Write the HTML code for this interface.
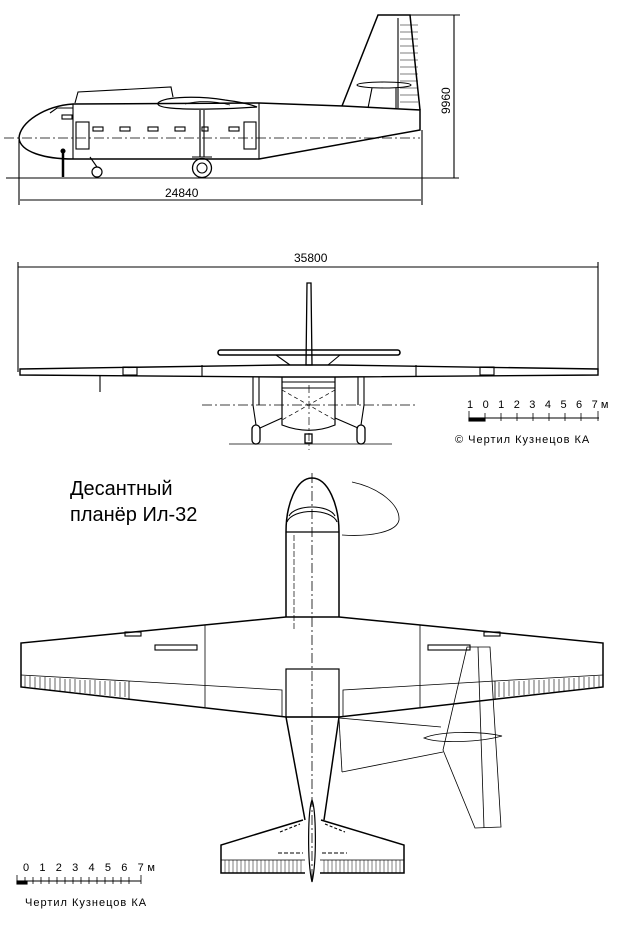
<!DOCTYPE html>
<html><head><meta charset="utf-8"><style>
html,body{margin:0;padding:0;background:#fff}
svg{display:block}
text{font-family:"Liberation Sans","DejaVu Sans",sans-serif;fill:#000}
</style></head><body>
<svg width="640" height="934" viewBox="0 0 640 934" xmlns="http://www.w3.org/2000/svg" fill="none" stroke="#000" stroke-width="1.1">
<!-- ===== SIDE VIEW ===== -->
<g>
<line x1="4" y1="138" x2="420" y2="138" stroke-dasharray="10,3,2,3" stroke-width="0.8"/>
<line x1="6" y1="178" x2="459" y2="178"/>
<path d="M73,104 C45,106 20,122 19,138 C20,152 45,159 73,159 L259,159 L420,130 L420,110 L343,106 L259,103 Z" stroke-width="1.5"/>
<line x1="73" y1="104" x2="73" y2="159"/>
<line x1="259" y1="103" x2="259" y2="159"/>
<path d="M50,113 L57,108 L73,108" />
<rect x="62" y="115" width="10" height="4"/>
<path d="M342,106 L378,15 L410,15 L420,110" stroke-width="1.5"/>
<line x1="398" y1="18" x2="398" y2="108"/>
<g stroke-width="0.6">
<line x1="400" y1="25" x2="418" y2="25"/><line x1="400" y1="32" x2="418" y2="32"/><line x1="400" y1="39" x2="418" y2="39"/><line x1="400" y1="46" x2="418" y2="46"/><line x1="400" y1="53" x2="418" y2="53"/><line x1="400" y1="60" x2="418" y2="60"/><line x1="400" y1="67" x2="418" y2="67"/><line x1="400" y1="74" x2="418" y2="74"/><line x1="400" y1="81" x2="418" y2="81"/><line x1="400" y1="88" x2="418" y2="88"/><line x1="400" y1="95" x2="418" y2="95"/><line x1="400" y1="102" x2="418" y2="102"/>
</g>
<ellipse cx="384" cy="85" rx="27" ry="3"/>
<line x1="372" y1="88" x2="368" y2="108"/><line x1="396" y1="88" x2="396" y2="108"/>
<path d="M158,103 C165,96 200,96 225,100 C240,102 250,104 257,107 C230,109 190,110 170,108 C160,107 157,105 158,103 Z" stroke-width="1.2"/>
<path d="M185,104 C200,100 215,101 230,105" stroke-width="0.8"/>
<line x1="200" y1="110" x2="200" y2="157" stroke-width="1.2"/>
<line x1="204" y1="110" x2="204" y2="157"/>
<circle cx="202" cy="168" r="9.5" stroke-width="1.3"/><circle cx="202" cy="168" r="5"/>
<line x1="192" y1="157" x2="212" y2="157"/>
<circle cx="97" cy="172" r="5" stroke-width="1.2"/>
<line x1="90" y1="157" x2="97" y2="167"/>
<g>
<rect x="93" y="127" width="10" height="4"/><rect x="120" y="127" width="10" height="4"/><rect x="148" y="127" width="10" height="4"/><rect x="175" y="127" width="10" height="4"/><rect x="202" y="127" width="6" height="4"/><rect x="229" y="127" width="10" height="4"/>
<rect x="76" y="122" width="13" height="27"/><rect x="244" y="122" width="12" height="27"/>
</g>
<path d="M75,103 L78,92 L171,87 L173,97"/>
<circle cx="63" cy="151" r="2" fill="#000"/>
<line x1="63" y1="153" x2="63" y2="177" stroke-width="2.5"/>
<line x1="410" y1="15" x2="460" y2="15"/>
<line x1="454" y1="15" x2="454" y2="178"/>
<line x1="19" y1="140" x2="19" y2="205"/>
<line x1="422" y1="130" x2="422" y2="205"/>
<line x1="20" y1="200" x2="421" y2="200"/>
<text x="165" y="197" font-size="12" stroke="none">24840</text>
<text transform="translate(450,114) rotate(-90)" font-size="12" stroke="none">9960</text>
</g>

<!-- ===== FRONT VIEW ===== -->
<g>
<line x1="18" y1="262" x2="18" y2="372"/><line x1="598" y1="262" x2="598" y2="372"/>
<line x1="18" y1="267" x2="598" y2="267"/>
<text x="294" y="262" font-size="12" stroke="none">35800</text>
<path d="M20,369 L282,365 L335,365 L598,369 L598,375 L335,377 L282,377 L20,375 Z" stroke-width="1.4"/>
<line x1="202" y1="365" x2="202" y2="377"/><line x1="416" y1="365" x2="416" y2="377"/>
<rect x="123" y="367" width="14" height="8"/><rect x="480" y="367" width="14" height="8"/>
<line x1="100" y1="376" x2="100" y2="392"/>
<path d="M307,283 L311,283 L312,365 L306,365 Z" stroke-width="1.3"/>
<rect x="218" y="350" width="182" height="5" rx="2.5" stroke-width="1.6"/>
<line x1="276" y1="355" x2="290" y2="365"/><line x1="340" y1="355" x2="328" y2="365"/>
<path d="M282,377 L282,425 C300,432 318,432 335,425 L335,377" stroke-width="1.2"/>
<line x1="282" y1="382" x2="335" y2="382"/>
<line x1="282" y1="388" x2="335" y2="388"/>
<line x1="282" y1="390" x2="335" y2="420" stroke-dasharray="4,3" stroke-width="0.7"/>
<line x1="335" y1="390" x2="282" y2="420" stroke-dasharray="4,3" stroke-width="0.7"/>
<line x1="309" y1="385" x2="309" y2="450" stroke-dasharray="8,3,2,3" stroke-width="0.7"/>
<line x1="202" y1="405" x2="416" y2="405" stroke-dasharray="10,3,2,3" stroke-width="0.8"/>
<line x1="229" y1="444" x2="392" y2="444" stroke-width="0.8"/>
<path d="M253,377 L253,405 L256,425 M259,377 L259,405"/>
<path d="M364,377 L364,405 L361,425 M358,377 L358,405"/>
<path d="M260,428 L282,418 M358,428 L335,418"/>
<rect x="252" y="425" width="8" height="19" rx="4" stroke-width="1.3"/>
<rect x="357" y="425" width="8" height="19" rx="4" stroke-width="1.3"/>
<rect x="305" y="434" width="7" height="9" stroke-width="1.3"/>
<text x="467" y="408" font-size="11" stroke="none" letter-spacing="3.2">1 0 1 2 3 4 5 6 7м</text>
<line x1="469" y1="418" x2="599" y2="418"/>
<g stroke-width="0.8">
<line x1="469" y1="411" x2="469" y2="421"/><line x1="485" y1="413" x2="485" y2="421"/><line x1="501" y1="413" x2="501" y2="421"/><line x1="517" y1="413" x2="517" y2="421"/><line x1="533" y1="413" x2="533" y2="421"/><line x1="549" y1="413" x2="549" y2="421"/><line x1="565" y1="413" x2="565" y2="421"/><line x1="581" y1="413" x2="581" y2="421"/><line x1="598" y1="411" x2="598" y2="421"/>
</g>
<rect x="469" y="418" width="16" height="3" fill="#000"/>
<text x="455" y="443" font-size="11" stroke="none" letter-spacing="1">©  Чертил Кузнецов КА</text>
</g>

<!-- ===== TOP VIEW ===== -->
<g>
<text x="70" y="495" font-size="20" stroke="none">Десантный</text>
<text x="70" y="521" font-size="20" stroke="none">планёр Ил-32</text>
<line x1="312" y1="473" x2="312" y2="882" stroke-dasharray="10,3,2,3" stroke-width="0.8"/>
<path d="M286,617 L286,532 C286,505 296,478 312,478 C328,478 339,505 339,532 L339,617" stroke-width="1.5"/>
<line x1="286" y1="532" x2="339" y2="532" stroke-width="1.2"/>
<path d="M287,522 C292,508 332,508 337,522" />
<path d="M289,516 C295,504 329,504 335,516" />
<line x1="294" y1="535" x2="294" y2="630" stroke-dasharray="6,2" stroke-width="0.7"/>
<path d="M352,482 C380,488 400,505 399,520 C397,532 370,537 342,535" stroke-width="0.8"/>
<path d="M286,617 L21,643 L21,687 L286,717 L339,717 L603,687 L603,643 L339,617 Z" stroke-width="1.5"/>
<line x1="205" y1="625" x2="205" y2="707" stroke-width="0.8"/>
<line x1="420" y1="625" x2="420" y2="707" stroke-width="0.8"/>
<line x1="21" y1="675" x2="129" y2="681" stroke-width="0.8"/>
<line x1="603" y1="675" x2="495" y2="681" stroke-width="0.8"/>
<path d="M129,681 L129,700 M129,681 L282,690 L282,717" stroke-width="0.8"/>
<path d="M495,681 L495,700 M495,681 L343,690 L343,717" stroke-width="0.8"/>
<g stroke-width="0.6">
<path d="M25,676v11M30,676v11M35,677v11M40,677v11M45,677v12M50,678v12M55,678v12M60,678v13M65,679v13M70,679v13M75,679v13M80,680v13M85,680v13M90,680v14M95,680v14M100,681v14M105,681v14M110,681v15M115,681v15M120,682v15M125,682v15"/>
<path d="M599,676v11M594,676v11M589,677v11M584,677v11M579,677v12M574,678v12M569,678v12M564,678v13M559,679v13M554,679v13M549,679v13M544,680v13M539,680v13M534,680v14M529,680v14M524,681v14M519,681v14M514,681v15M509,681v15M504,682v15M499,682v15"/>
</g>
<rect x="155" y="645" width="42" height="5"/>
<rect x="428" y="645" width="42" height="5"/>
<rect x="125" y="632" width="16" height="4"/><rect x="484" y="632" width="16" height="4"/>
<rect x="286" y="669" width="53" height="48" stroke-width="1.2"/>
<path d="M286,717 L305,820 M339,717 L324,820" stroke-width="1.5"/>
<path d="M312,800 C316,810 317,860 312,882 C307,860 308,810 312,800 Z" stroke-width="1.2"/>
<path d="M303,820 L221,845 L221,873 L305,873 M321,820 L404,845 L404,873 L320,873" stroke-width="1.5"/>
<line x1="221" y1="860" x2="305" y2="860" stroke-width="0.8"/>
<line x1="320" y1="860" x2="404" y2="860" stroke-width="0.8"/>
<g stroke-width="0.5">
<path d="M225,860v13M229,860v13M233,860v13M237,860v13M241,860v13M245,860v13M249,860v13M253,860v13M257,860v13M261,860v13M265,860v13M269,860v13M273,860v13M277,860v13M281,860v13M285,860v13M289,860v13M293,860v13M297,860v13M301,860v13"/>
<path d="M324,860v13M328,860v13M332,860v13M336,860v13M340,860v13M344,860v13M348,860v13M352,860v13M356,860v13M360,860v13M364,860v13M368,860v13M372,860v13M376,860v13M380,860v13M384,860v13M388,860v13M392,860v13M396,860v13M400,860v13"/>
</g>
<line x1="278" y1="853" x2="303" y2="853" stroke-dasharray="4,2"/>
<line x1="322" y1="853" x2="347" y2="853" stroke-dasharray="4,2"/>
<line x1="280" y1="832" x2="300" y2="824" stroke-dasharray="3,2"/>
<line x1="325" y1="824" x2="345" y2="832" stroke-dasharray="3,2"/>
<g stroke-width="0.8">
<path d="M467,647 L490,647 L501,827 L475,828 L443,750 Z"/>
<line x1="478" y1="647" x2="484" y2="828"/>
<path d="M424,738 C440,731 480,731 502,736 C480,742 440,744 424,738 Z"/>
<line x1="339" y1="718" x2="441" y2="727"/>
<line x1="342" y1="772" x2="443" y2="752"/>
<line x1="339" y1="718" x2="342" y2="772"/>
</g>
<text x="23" y="871" font-size="11" stroke="none" letter-spacing="3.6">0 1 2 3 4 5 6 7м</text>
<line x1="17" y1="881" x2="141" y2="881"/>
<g stroke-width="0.8">
<path d="M17,875v9M25,877v7M33,877v7M41,877v7M49,877v7M57,877v7M65,877v7M73,877v7M81,877v7M89,877v7M97,877v7M105,877v7M113,877v7M121,877v7M129,877v7M141,875v9"/>
</g>
<rect x="17" y="881" width="10" height="3" fill="#000"/>
<text x="25" y="906" font-size="11" stroke="none" letter-spacing="1">Чертил Кузнецов КА</text>
</g>
</svg>
</body></html>
